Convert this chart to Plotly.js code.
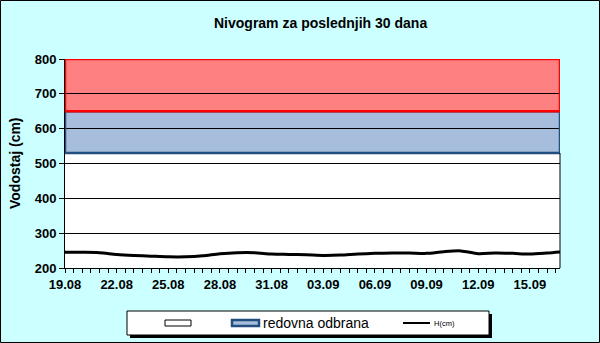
<!DOCTYPE html>
<html>
<head>
<meta charset="utf-8">
<script src="https://cdn.plot.ly/plotly-3.0.1.min.js"></script>
<style>html,body{margin:0;padding:0;background:#CCFFFF;}#chart{width:600px;height:343px;}</style>
</head>
<body>
<div id="chart"></div>
<script>
// Data (days since 19.08)
const days = [0,1,2,3,4,5,6,7,8,9,10,11,12,13,14,15,16,17,18,19,20,21,22,23,24,25,26,27,28,28.75];
const levels = [245,245,244,239,236,234,232,232,235,241,244,244,240,239,238,236,237,240,242,243,243,242,247,249,241,243,242,240,243,246];
const tickDays = [0,3,6,9,12,15,18,21,24,27];
const tickLabels = ['19.08','22.08','25.08','28.08','31.08','03.09','06.09','09.09','12.09','15.09'];
const yTicks = [200,300,400,500,600,700,800];
const bandBlue = [530, 650];   // redovna odbrana
const bandRed = [650, 800];
const xEnd = 28.75;

const F = 'Liberation Sans, Arial, sans-serif';
const W = 600, H = 343, L = 65, R = 40, T = 59, B = 75;
const pw = W - L - R, ph = H - T - B;
const px = v => (v - L) / pw;
const py = v => (H - B - v) / ph;

const shapes = [
  {type:'rect', layer:'below', xref:'x', yref:'y', x0:0, x1:xEnd, y0:bandBlue[0], y1:bandBlue[1], fillcolor:'#A6BEDB', line:{width:0}},
  {type:'rect', layer:'below', xref:'x', yref:'y', x0:0, x1:xEnd, y0:bandRed[0], y1:bandRed[1], fillcolor:'#FF8080', line:{width:0}},
  {type:'rect', layer:'above', xref:'x', yref:'y', x0:0, x1:xEnd, y0:bandBlue[0], y1:bandBlue[1], line:{color:'#234E80', width:2.5}},
  {type:'rect', layer:'above', xref:'x', yref:'y', x0:0, x1:xEnd, y0:bandRed[0], y1:bandRed[1], line:{color:'#FF0000', width:2.5}},
  {type:'line', layer:'above', xref:'paper', yref:'paper', x0:1, x1:1, y0:0, y1:py(153), line:{color:'#000', width:1}},
  {type:'rect', layer:'above', xref:'paper', yref:'paper', x0:px(0.5), x1:px(599.5), y0:py(0.5), y1:py(342.5), line:{color:'#000', width:1}},
  {type:'rect', layer:'above', xref:'paper', yref:'paper', x0:px(130), x1:px(492), y0:py(314), y1:py(338), fillcolor:'#000', line:{width:0}},
  {type:'rect', layer:'above', xref:'paper', yref:'paper', x0:px(127), x1:px(489), y0:py(311), y1:py(335), fillcolor:'#FFFFFF', line:{color:'#000', width:1}},
  {type:'rect', layer:'above', xref:'paper', yref:'paper', x0:px(165), x1:px(191), y0:py(320), y1:py(326), fillcolor:'#FFFFFF', line:{color:'#000', width:1}},
  {type:'rect', layer:'above', xref:'paper', yref:'paper', x0:px(232), x1:px(259), y0:py(320), y1:py(326), fillcolor:'#A6BEDB', line:{color:'#234E80', width:2.5}},
  {type:'line', layer:'above', xref:'paper', yref:'paper', x0:px(403), x1:px(430), y0:py(323), y1:py(323), line:{color:'#000', width:2}}
];

const annotations = [
  {text:'<b>Nivogram za poslednjih 30 dana</b>', xref:'paper', yref:'paper', x:px(320), y:py(23), xanchor:'center', yanchor:'middle', showarrow:false, font:{family:F, size:14, color:'#000'}},
  {text:'<b>Vodostaj (cm)</b>', xref:'paper', yref:'paper', x:px(15), y:py(163), xanchor:'center', yanchor:'middle', textangle:-90, showarrow:false, font:{family:F, size:14, color:'#000'}},
  {text:'redovna odbrana', xref:'paper', yref:'paper', x:px(261), y:py(323), xanchor:'left', yanchor:'middle', showarrow:false, font:{family:F, size:14, color:'#000'}},
  {text:'H(cm)', xref:'paper', yref:'paper', x:px(432), y:py(323), xanchor:'left', yanchor:'middle', showarrow:false, font:{family:F, size:7.5, color:'#000'}}
];

const trace = {
  x: days, y: levels, type:'scatter', mode:'lines',
  line:{color:'#000', width:3, shape:'spline', smoothing:0.8},
  showlegend:false, hoverinfo:'skip'
};

const layout = {
  width:W, height:H,
  margin:{l:L, r:R, t:T, b:B, pad:0},
  paper_bgcolor:'#CCFFFF', plot_bgcolor:'#FFFFFF',
  showlegend:false,
  xaxis:{
    range:[0, xEnd], tickmode:'array', tickvals:tickDays, ticktext:tickLabels,
    ticks:'outside', ticklen:4, tickcolor:'#000', showgrid:false, zeroline:false,
    showline:true, linecolor:'#000', linewidth:1,
    minor:{dtick:0.5, tick0:0, ticks:'outside', ticklen:4, tickcolor:'#000', showgrid:false},
    tickfont:{family:F, size:13, color:'#000', weight:'bold'}, fixedrange:true
  },
  yaxis:{
    range:[200, 800], tickmode:'array', tickvals:yTicks,
    ticks:'outside', ticklen:5, tickcolor:'#000',
    showgrid:true, gridcolor:'#000', gridwidth:1, zeroline:false,
    showline:true, linecolor:'#000', linewidth:1,
    tickfont:{family:F, size:13, color:'#000', weight:'bold'}, fixedrange:true
  },
  shapes:shapes, annotations:annotations
};

Plotly.newPlot('chart', [trace], layout, {staticPlot:true, displayModeBar:false});
</script>
</body>
</html>
